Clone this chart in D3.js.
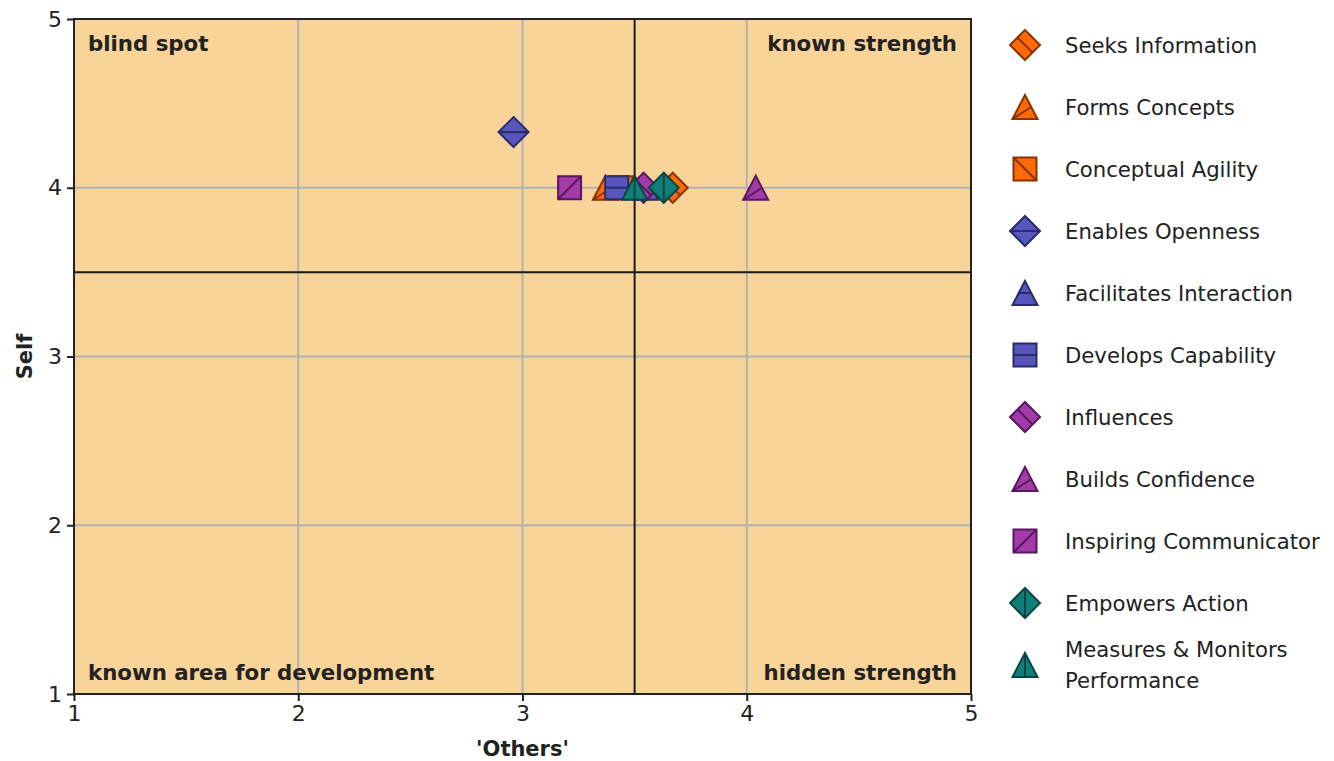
<!DOCTYPE html>
<html>
<head>
<meta charset="utf-8">
<script src="https://cdn.jsdelivr.net/npm/d3@7"></script>
<style>
  html, body { margin: 0; padding: 0; background: #ffffff; }
  svg { display: block; font-family: "DejaVu Sans", Verdana, sans-serif; }
</style>
</head>
<body>
<svg id="chart" width="1334" height="761"></svg>
<script>
// ---- data ----
const categories = [
  "Seeks Information", "Forms Concepts", "Conceptual Agility", "Enables Openness",
  "Facilitates Interaction", "Develops Capability", "Influences", "Builds Confidence",
  "Inspiring Communicator", "Empowers Action", "Measures & Monitors Performance"
];
const othersScores = [3.67, 3.37, 3.44, 2.96, 3.55, 3.42, 3.54, 4.04, 3.21, 3.63, 3.50];
const selfScores   = [4.00, 4.00, 4.00, 4.33, 4.00, 4.00, 4.00, 4.00, 4.00, 4.00, 4.00];
const xTicks = [1, 2, 3, 4, 5];
const yTicks = [1, 2, 3, 4, 5];
const quadrantLabels = ["blind spot", "known strength", "known area for development", "hidden strength"];
const xTitle = "'Others'";
const yTitle = "Self";
const midpoint = 3.5;

// ---- styles ----
const shapes = ["diamond", "triangle", "square", "diamond", "triangle", "square", "diamond", "triangle", "square", "diamond", "triangle"];
const hatches = ["diag", "diag", "back", "horiz", "horiz", "horiz", "diag", "diag", "fwd", "vert", "vert"];
const palette = {
  orange: {fill: "#ff6a08", stroke: "#8a3400"},
  blue:   {fill: "#5656bd", stroke: "#2b2b6b"},
  purple: {fill: "#a23aa8", stroke: "#5a175f"},
  teal:   {fill: "#0e7f79", stroke: "#0a4644"}
};
const colorKeys = ["orange","orange","orange","blue","blue","blue","purple","purple","purple","teal","teal"];

const svg = d3.select("#chart");
const plot = {left: 74, top: 19, right: 971, bottom: 694};
const x = d3.scaleLinear().domain([1, 5]).range([plot.left, plot.right]);
const y = d3.scaleLinear().domain([1, 5]).range([plot.bottom, plot.top]);
const textColor = "#222222";

// background
svg.append("rect")
  .attr("x", plot.left).attr("y", plot.top)
  .attr("width", plot.right - plot.left).attr("height", plot.bottom - plot.top)
  .attr("fill", "#f9d499");

// grid
const grid = svg.append("g");
grid.selectAll("line.gx").data(xTicks).join("line")
  .attr("x1", d => x(d)).attr("x2", d => x(d))
  .attr("y1", plot.top).attr("y2", plot.bottom)
  .attr("stroke", "#b2b2b2").attr("stroke-width", 2);
grid.selectAll("line.gy").data(yTicks).join("line")
  .attr("y1", d => y(d)).attr("y2", d => y(d))
  .attr("x1", plot.left).attr("x2", plot.right)
  .attr("stroke", "#b2b2b2").attr("stroke-width", 2);

// quadrant dividers
svg.append("line").attr("x1", x(midpoint)).attr("x2", x(midpoint))
  .attr("y1", plot.top).attr("y2", plot.bottom)
  .attr("stroke", "#1a1a1a").attr("stroke-width", 2);
svg.append("line").attr("y1", y(midpoint)).attr("y2", y(midpoint))
  .attr("x1", plot.left).attr("x2", plot.right)
  .attr("stroke", "#1a1a1a").attr("stroke-width", 2);

// frame
svg.append("rect")
  .attr("x", plot.left).attr("y", plot.top)
  .attr("width", plot.right - plot.left).attr("height", plot.bottom - plot.top)
  .attr("fill", "none").attr("stroke", "#222").attr("stroke-width", 2);

// axes
const xAxis = d3.axisBottom(x).tickValues(xTicks).tickFormat(d3.format("d")).tickSize(7).tickPadding(4);
const yAxis = d3.axisLeft(y).tickValues(yTicks).tickFormat(d3.format("d")).tickSize(7).tickPadding(5);
const gx = svg.append("g").attr("transform", `translate(0,${plot.bottom})`).call(xAxis);
const gy = svg.append("g").attr("transform", `translate(${plot.left},0)`).call(yAxis);
[gx, gy].forEach(g => {
  g.select(".domain").remove();
  g.selectAll(".tick line").attr("stroke", "#222").attr("stroke-width", 2);
  g.selectAll(".tick text").attr("fill", textColor)
    .style("font-family", "'DejaVu Sans', sans-serif").style("font-size", "22px");
});

// axis titles
svg.append("text").attr("x", (plot.left + plot.right) / 2).attr("y", 756)
  .attr("text-anchor", "middle").attr("font-weight", "bold").attr("font-size", 21)
  .attr("fill", textColor).text(xTitle);
svg.append("text")
  .attr("transform", `translate(32,${(plot.top + plot.bottom) / 2}) rotate(-90)`)
  .attr("text-anchor", "middle").attr("font-weight", "bold").attr("font-size", 21)
  .attr("fill", textColor).text(yTitle);

// quadrant labels
const ql = [
  {t: quadrantLabels[0], x: plot.left + 14, y: plot.top + 32, a: "start"},
  {t: quadrantLabels[1], x: plot.right - 14, y: plot.top + 32, a: "end"},
  {t: quadrantLabels[2], x: plot.left + 14, y: plot.bottom - 14, a: "start"},
  {t: quadrantLabels[3], x: plot.right - 14, y: plot.bottom - 14, a: "end"}
];
svg.selectAll("text.ql").data(ql).join("text")
  .attr("x", d => d.x).attr("y", d => d.y).attr("text-anchor", d => d.a)
  .attr("font-weight", "bold").attr("font-size", 21.3).attr("fill", textColor)
  .text(d => d.t);

// marker drawing
function drawMarker(g, shape, hatch, col) {
  let outline, hatchLine;
  if (shape === "diamond") {
    const r = 15;
    outline = `M0,${-r}L${r},0L0,${r}L${-r},0Z`;
    if (hatch === "diag") hatchLine = `M${-r/2},${-r/2}L${r/2},${r/2}`;
    else if (hatch === "horiz") hatchLine = `M${-r},0L${r},0`;
    else hatchLine = `M0,${-r}L0,${r}`;
  } else if (shape === "square") {
    const s = 11.5;
    outline = `M${-s},${-s}L${s},${-s}L${s},${s}L${-s},${s}Z`;
    if (hatch === "back") hatchLine = `M${-s},${-s}L${s},${s}`;
    else if (hatch === "fwd") hatchLine = `M${-s},${s}L${s},${-s}`;
    else hatchLine = `M${-s},0L${s},0`;
  } else {
    const w = 12.5, h = 12;
    outline = `M0,${-h}L${w},${h}L${-w},${h}Z`;
    if (hatch === "diag") hatchLine = `M${-w},${h}L${w/2},0`;
    else if (hatch === "horiz") hatchLine = `M${-w/2},0L${w/2},0`;
    else hatchLine = `M0,${-h}L0,${h}`;
  }
  g.append("path").attr("d", outline).attr("fill", col.fill)
    .attr("stroke", col.stroke).attr("stroke-width", 2).attr("stroke-linejoin", "miter");
  g.append("path").attr("d", hatchLine).attr("fill", "none")
    .attr("stroke", col.stroke).attr("stroke-width", 2);
}

// points
const pts = categories.map((c, i) => ({c, i, xv: othersScores[i], yv: selfScores[i]}));
const pg = svg.append("g");
pts.forEach(p => {
  const g = pg.append("g").attr("transform", `translate(${x(p.xv)},${y(p.yv)})`);
  drawMarker(g, shapes[p.i], hatches[p.i], palette[colorKeys[p.i]]);
});

// legend
const legendX = 1025, legendTextX = 1065, legendTop = 45, legendStep = 62;
const lg = svg.append("g");
categories.forEach((c, i) => {
  const cy = legendTop + i * legendStep;
  const g = lg.append("g").attr("transform", `translate(${legendX},${cy})`);
  drawMarker(g, shapes[i], hatches[i], palette[colorKeys[i]]);
  const words = c === "Measures & Monitors Performance" ? ["Measures & Monitors", "Performance"] : [c];
  const t = lg.append("text").attr("x", legendTextX).attr("font-size", 21.2).attr("fill", textColor);
  if (words.length === 1) {
    t.attr("y", cy + 8).text(c);
  } else {
    t.append("tspan").attr("x", legendTextX).attr("y", cy - 8).text(words[0]);
    t.append("tspan").attr("x", legendTextX).attr("y", cy + 23).text(words[1]);
  }
});
</script>
</body>
</html>
